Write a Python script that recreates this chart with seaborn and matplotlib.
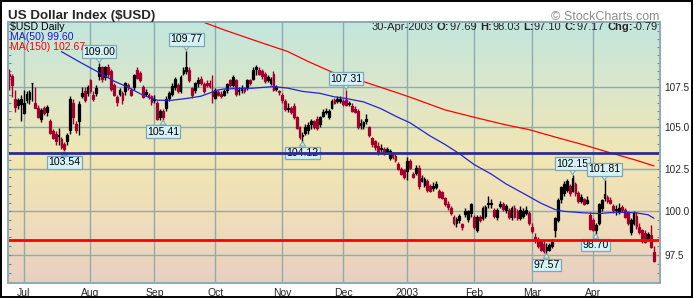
import numpy as np
import pandas as pd
import matplotlib
matplotlib.use("Agg")
import matplotlib.pyplot as plt
import seaborn as sns
from matplotlib.ticker import FixedLocator, NullFormatter, FuncFormatter
from matplotlib.patches import Rectangle
from matplotlib.colors import to_rgb

# ---------------- data ----------------
dates = pd.bdate_range("2002-06-24", "2003-04-30")

opens = [
    108.15, 108.15, 106.75, 106.65, 106.75, 105.85, 107.05, 107.15, 107.72, 106.5,
    106.2, 105.5, 106.2, 106.25, 105.35, 104.75, 104.6, 104.45, 104.3, 104.0,
    104.15, 104.8, 106.5, 105.2, 105.4, 106.9, 107.25, 107.1, 107.9, 107.0,
    107.1, 108.15, 108.7, 108.1, 108.75, 108.5, 107.6, 106.85, 107.3, 107.1,
    107.2, 107.6, 107.3, 107.5, 108.55, 108.35, 107.5, 107.15, 106.95, 106.9,
    106.75, 106.5, 105.6, 106.0, 106.2, 106.8, 107.05, 107.5, 107.6, 107.25,
    108.55, 108.45, 108.55, 107.0, 107.3, 107.7, 107.95, 107.2, 107.75, 107.75,
    107.2, 106.8, 107.15, 107.05, 107.2, 107.3, 107.9, 107.6, 107.9, 107.3,
    107.4, 107.4, 107.5, 107.9, 108.0, 108.75, 108.55, 108.5, 108.3, 108.1,
    107.75, 108.3, 107.5, 107.2, 107.0, 106.6, 106.2, 106.2, 106.3, 105.6,
    105.0, 104.55, 104.65, 104.8, 105.4, 105.35, 105.5, 105.2, 105.95, 106.0,
    105.6, 106.2, 106.65, 106.75, 106.6, 106.6, 106.65, 106.45, 106.3, 106.1,
    106.0, 105.25, 105.1, 105.5, 105.0, 104.35, 104.15, 103.85, 103.75, 103.65,
    103.65, 103.15, 103.4, 103.25, 102.8, 102.5, 102.4, 102.35, 102.95, 102.2,
    102.25, 102.55, 101.95, 101.55, 101.8, 101.5, 101.45, 101.6, 101.2, 101.1,
    100.75, 100.45, 100.2, 99.7, 99.55, 99.5, 99.1, 100.0, 99.55, 99.9,
    99.7, 98.9, 99.7, 99.6, 99.75, 100.5, 100.5, 100.1, 99.65, 100.45,
    100.45, 100.1, 100.1, 99.65, 100.2, 100.0, 100.1, 100.0, 100.1, 99.9,
    98.85, 98.5, 98.35, 98.3, 98.15, 97.95, 97.8, 98.0, 98.95, 99.5,
    100.7, 101.05, 101.25, 101.45, 101.2, 101.6, 101.05, 100.85, 100.7, 100.65,
    99.8, 99.5, 98.9, 99.3, 100.2, 100.75, 100.85, 100.65, 100.3, 100.15,
    99.95, 100.25, 100.1, 99.9, 98.8, 99.35, 99.75, 99.1, 98.9, 98.75,
    98.4, 98.65, 97.69,
]
highs = [
    108.6, 108.3, 107.3, 106.8, 106.95, 107.3, 107.2, 107.3, 107.75, 107.5,
    106.35, 106.2, 106.3, 106.35, 105.5, 104.9, 104.75, 104.95, 104.4, 104.1,
    104.65, 106.9, 106.7, 105.35, 106.6, 107.5, 107.45, 107.6, 108.0, 107.2,
    107.6, 109.0, 108.8, 108.8, 108.9, 108.6, 107.7, 107.0, 107.4, 107.2,
    107.8, 107.75, 107.4, 108.3, 108.75, 108.5, 107.6, 107.35, 107.1, 107.0,
    106.95, 106.6, 106.1, 106.1, 106.9, 107.2, 107.7, 108.1, 107.75, 108.2,
    108.7, 109.77, 108.7, 107.5, 107.8, 108.1, 108.15, 107.8, 107.9, 107.9,
    108.2, 107.4, 107.3, 107.2, 107.35, 107.7, 108.0, 108.2, 108.0, 107.5,
    107.6, 107.5, 108.0, 108.0, 108.7, 108.85, 108.7, 108.6, 108.4, 108.2,
    108.1, 108.45, 107.6, 107.3, 107.1, 106.7, 106.5, 106.3, 106.5, 105.7,
    105.1, 104.7, 105.2, 105.3, 105.5, 105.45, 105.7, 105.7, 106.1, 106.2,
    106.1, 106.75, 106.8, 106.9, 106.9, 106.7, 107.31, 106.6, 106.45, 106.3,
    106.1, 105.5, 105.4, 105.8, 105.1, 104.4, 104.2, 104.1, 104.0, 103.8,
    103.8, 103.7, 103.5, 103.4, 102.9, 102.6, 102.5, 103.2, 103.1, 102.3,
    102.7, 102.7, 102.1, 102.0, 101.9, 101.6, 101.7, 101.75, 101.3, 101.2,
    100.85, 100.6, 100.3, 99.8, 99.7, 99.85, 99.3, 100.2, 100.1, 100.5,
    99.8, 99.8, 99.8, 100.3, 100.35, 100.9, 100.7, 100.2, 100.2, 100.6,
    100.55, 100.4, 100.2, 100.3, 100.35, 100.15, 100.3, 100.2, 100.3, 100.0,
    99.3, 98.75, 98.5, 98.4, 98.3, 98.2, 98.2, 98.4, 99.7, 100.8,
    101.5, 101.8, 101.9, 101.6, 102.15, 101.7, 101.2, 101.0, 100.8, 100.9,
    99.95, 99.6, 99.3, 100.5, 100.7, 101.81, 100.95, 100.85, 100.4, 100.35,
    100.5, 100.35, 100.2, 100.0, 99.6, 100.0, 99.95, 99.3, 99.0, 98.9,
    98.8, 99.2, 98.03,
]
lows = [
    107.3, 106.85, 105.95, 106.1, 105.4, 105.8, 106.5, 106.4, 106.6, 106.15,
    105.55, 105.3, 105.75, 105.7, 104.6, 104.3, 103.9, 103.9, 103.7, 103.54,
    103.9, 104.6, 105.2, 104.65, 104.5, 106.8, 106.55, 106.9, 107.1, 106.6,
    106.9, 107.9, 107.8, 107.9, 108.1, 107.2, 106.9, 106.3, 106.9, 106.4,
    107.0, 107.3, 106.9, 107.3, 108.0, 107.8, 106.8, 106.9, 106.7, 106.35,
    106.5, 105.45, 105.45, 105.41, 106.0, 106.6, 106.9, 107.3, 107.1, 107.1,
    108.2, 108.3, 107.8, 106.8, 107.1, 107.5, 107.6, 107.1, 107.5, 107.4,
    106.5, 106.7, 106.9, 106.8, 106.9, 107.1, 107.5, 107.5, 106.9, 107.0,
    107.1, 107.1, 107.3, 107.6, 107.9, 108.2, 108.2, 108.0, 107.7, 107.8,
    107.6, 107.2, 107.2, 107.0, 106.5, 106.0, 105.9, 105.8, 105.5, 104.9,
    104.3, 104.12, 104.5, 104.6, 104.9, 104.9, 104.8, 105.0, 105.6, 105.8,
    105.5, 106.1, 106.4, 106.5, 106.5, 106.3, 106.3, 106.3, 105.95, 105.85,
    104.9, 104.9, 104.9, 105.2, 104.4, 103.8, 103.6, 103.3, 103.5, 103.3,
    103.4, 103.0, 103.1, 102.9, 102.4, 102.1, 101.9, 101.85, 102.5, 101.95,
    102.1, 101.3, 101.7, 101.4, 101.1, 101.1, 101.2, 101.3, 100.8, 100.7,
    100.3, 100.1, 99.8, 99.2, 99.1, 99.3, 98.95, 99.7, 99.4, 99.7,
    99.0, 98.8, 99.4, 99.5, 99.6, 100.2, 100.2, 99.6, 99.5, 100.2,
    100.0, 99.9, 99.55, 99.5, 99.6, 99.5, 99.5, 99.6, 99.8, 99.2,
    98.75, 98.2, 97.9, 97.75, 97.6, 97.57, 97.7, 97.9, 98.5, 99.4,
    100.5, 100.9, 101.1, 100.9, 101.1, 100.9, 100.5, 100.5, 100.35, 100.4,
    98.9, 98.85, 98.7, 99.2, 100.0, 100.6, 100.5, 100.4, 99.9, 99.8,
    99.85, 99.95, 99.6, 99.2, 98.65, 99.2, 99.0, 98.7, 98.2, 98.2,
    98.3, 97.9, 97.10,
]
closes = [
    108.3, 107.6, 106.25, 106.35, 106.4, 106.45, 106.65, 106.7, 107.7, 106.2,
    105.6, 106.05, 105.85, 105.95, 104.65, 104.35, 104.15, 104.5, 103.8, 103.7,
    104.55, 106.75, 105.6, 104.8, 106.4, 107.1, 106.65, 107.45, 107.2, 106.75,
    107.4, 108.75, 107.95, 108.7, 108.3, 107.35, 107.0, 106.55, 107.05, 106.65,
    107.7, 107.45, 107.0, 108.2, 108.05, 107.9, 106.85, 107.05, 106.85, 106.55,
    106.65, 105.5, 106.0, 105.6, 106.75, 107.1, 107.55, 107.95, 107.2, 108.1,
    108.35, 108.75, 107.9, 107.4, 107.7, 107.9, 107.7, 107.65, 107.6, 107.55,
    106.9, 107.3, 107.0, 106.9, 107.0, 107.65, 107.6, 108.1, 107.05, 107.25,
    107.3, 107.25, 107.9, 107.75, 108.55, 108.6, 108.3, 108.15, 107.85, 107.9,
    108.0, 107.3, 107.35, 107.15, 106.65, 106.1, 106.1, 105.95, 105.6, 104.95,
    104.4, 104.45, 105.0, 105.15, 105.2, 105.0, 104.95, 105.6, 105.7, 105.9,
    106.0, 106.6, 106.5, 106.6, 106.75, 106.4, 106.35, 106.4, 106.0, 105.95,
    105.0, 105.15, 105.3, 105.35, 104.5, 103.95, 103.8, 103.5, 103.7, 103.35,
    103.5, 103.55, 103.2, 103.0, 102.5, 102.2, 102.0, 102.95, 102.55, 102.0,
    102.55, 101.5, 101.8, 101.9, 101.25, 101.2, 101.35, 101.4, 100.85, 100.75,
    100.4, 100.25, 99.9, 99.3, 99.35, 99.75, 99.25, 99.85, 100.0, 100.4,
    99.1, 99.7, 99.5, 100.2, 100.25, 100.4, 100.45, 99.75, 100.1, 100.3,
    100.15, 100.3, 99.65, 100.2, 99.7, 99.6, 99.6, 99.75, 99.9, 99.3,
    99.1, 98.35, 98.0, 97.8, 97.75, 97.8, 98.05, 98.25, 99.6, 100.65,
    101.4, 101.6, 101.8, 101.05, 101.95, 101.05, 100.6, 100.6, 100.45, 100.5,
    99.0, 98.9, 99.2, 100.4, 100.65, 101.0, 100.6, 100.5, 100.05, 100.05,
    100.2, 100.05, 99.7, 99.3, 99.5, 99.9, 99.15, 98.8, 98.3, 98.25,
    98.7, 97.96, 97.17,
]

ma50_dates = ["2002-07-18", "2002-07-26", "2002-08-06", "2002-08-13", "2002-08-20",
              "2002-08-27", "2002-09-03", "2002-09-10", "2002-09-17", "2002-09-24",
              "2002-10-02", "2002-10-04", "2002-10-18", "2002-10-29", "2002-11-05",
              "2002-11-12", "2002-11-20", "2002-11-27", "2002-12-03", "2002-12-11",
              "2002-12-19", "2002-12-27", "2003-01-02", "2003-01-13", "2003-01-20",
              "2003-01-27", "2003-02-03", "2003-02-11", "2003-02-18", "2003-02-26",
              "2003-03-06", "2003-03-13", "2003-03-18", "2003-03-27", "2003-04-03",
              "2003-04-11", "2003-04-22", "2003-04-28", "2003-04-30"]
ma50_values = [109.70, 109.07, 108.37, 107.85, 107.45, 106.97, 106.65, 106.65, 106.76, 106.90,
               107.29, 107.35, 107.40, 107.50, 107.40, 107.20, 107.08, 106.86, 106.76, 106.55,
               106.13, 105.59, 105.27, 104.46, 103.96, 103.40, 102.76, 102.18, 101.61, 101.05,
               100.48, 100.10, 100.00, 99.91, 99.87, 99.95, 99.91, 99.80, 99.60]

ma150_dates = ["2002-09-24", "2002-10-04", "2002-10-18", "2002-11-05", "2002-11-14",
               "2002-11-27", "2002-12-11", "2002-12-27", "2003-01-03", "2003-01-20",
               "2003-02-03", "2003-02-18", "2003-02-28", "2003-03-13", "2003-03-27",
               "2003-04-08", "2003-04-22", "2003-04-30"]
ma150_values = [111.65, 111.09, 110.45, 109.70, 109.07, 108.34, 107.81, 107.09, 106.78, 106.06,
                105.61, 105.14, 104.85, 104.40, 103.92, 103.50, 103.00, 102.67]

resistance_level = 103.46
support_level = 98.37

month_ticks = ["2002-07-01", "2002-08-01", "2002-09-02", "2002-10-01", "2002-11-01",
               "2002-12-02", "2003-01-01", "2003-02-03", "2003-03-03", "2003-04-01"]
month_labels = ["Jul", "Aug", "Sep", "Oct", "Nov", "Dec", "2003", "Feb", "Mar", "Apr"]
y_ticks = [97.5, 100.0, 102.5, 105.0, 107.5]

peak_dates = ["2002-08-06", "2002-09-17", "2002-12-03", "2003-03-21", "2003-04-07"]
trough_dates = ["2002-07-19", "2002-09-05", "2002-11-12", "2003-03-10", "2003-04-02"]

title = "US Dollar Index ($USD)"
legend_lines = [("$USD Daily", "#000000"), ("MA(50) 99.60", "#1a1ad0"), ("MA(150) 102.67", "#ff0000")]
readout = [["30-Apr-2003"], ["O:", "97.69"], ["H:", "98.03"], ["L:", "97.10"],
           ["C:", "97.17"], ["Chg:", "-0.79"]]

# ---------------- style ----------------
sns.set_style("white")
plt.rcParams["font.family"] = ["Liberation Sans", "DejaVu Sans"]

W, H = 694, 298
fig = plt.figure(figsize=(W / 100, H / 100), dpi=100, facecolor="white")
ax_l, ax_r, ax_t, ax_b = 8, 660, 22, 283
ax = fig.add_axes([ax_l / W, 1 - ax_b / H, (ax_r - ax_l) / W, (ax_b - ax_t) / H])

RED = "#a3002e"
BLACK = "#000000"
GRID = "#8faab1"

idx = {d: i for i, d in enumerate(dates)}
def pos(s):
    return idx[pd.Timestamp(s)]

o = np.array(opens); h = np.array(highs); l = np.array(lows); c = np.array(closes)
assert len(o) == len(h) == len(l) == len(c) == len(dates)
x = np.arange(len(dates))

# background gradient
stops = [(0.0, "#c2e6de"), (0.30, "#dfe7c6"), (0.52, "#f1e6b3"), (0.78, "#eedcbb"), (1.0, "#e8d0c1")]
n = 300
tt = np.linspace(0, 1, n)
cols = np.zeros((n, 1, 3))
for k in range(3):
    cols[:, 0, k] = np.interp(tt, [s[0] for s in stops], [to_rgb(s[1])[k] for s in stops])
ax.imshow(cols, extent=(0, 1, 0, 1), transform=ax.transAxes, aspect="auto", zorder=0)

ax.set_yscale("log")
ax.set_xlim(-0.4, 224.1)
ax.set_ylim(95.93, 111.6)

# candlesticks
prev = np.r_[c[0] + 1, c[:-1]]
is_red = c < prev
colors = np.where(is_red, RED, BLACK)
filled = c < o
face = [col if f else "none" for col, f in zip(colors, filled)]
ax.vlines(x, l, h, colors=colors, lw=1.0, zorder=3)
body_lo = np.minimum(o, c)
body_h = np.maximum(np.abs(c - o), 0.03)
ax.bar(x, body_h, bottom=body_lo, width=0.62, color=face, edgecolor=colors, linewidth=0.9, zorder=4)

# moving averages
ma50_df = pd.DataFrame({"x": [pos(d) for d in ma50_dates], "v": ma50_values})
ma150_df = pd.DataFrame({"x": [pos(d) for d in ma150_dates], "v": ma150_values})
sns.lineplot(data=ma50_df, x="x", y="v", ax=ax, color="#2323d6", lw=0.9, zorder=5, legend=False)
sns.lineplot(data=ma150_df, x="x", y="v", ax=ax, color="#ff0000", lw=0.9, zorder=5, legend=False)

# peak / trough labels
LBL_FACE = "#d5f3f7"
LBL_EDGE = "#7fa6b3"
def label(i, val, up):
    ax.annotate(f"{val:.2f}", xy=(i, val), xytext=(0, 8.0 if up else -8.0), textcoords="offset points",
                ha="center", va="center", fontsize=7.6, color="black", zorder=6,
                bbox=dict(boxstyle="square,pad=0.12", fc=LBL_FACE, ec=LBL_EDGE, lw=0.9),
                arrowprops=dict(arrowstyle="wedge,tail_width=0.55,shrink_factor=0.5", fc=LBL_FACE,
                                ec=LBL_EDGE, lw=0.8, shrinkA=0, shrinkB=0))
for d in peak_dates:
    i = pos(d); label(i, h[i], True)
for d in trough_dates:
    i = pos(d); label(i, l[i], False)

# horizontal lines
ax.axhline(resistance_level, color="#2c2c8e", lw=2.0, zorder=7)
ax.axhline(support_level, color="#ff0000", lw=2.0, zorder=7)

# axes / ticks
ax.set_xticks([pos(d) for d in month_ticks])
ax.set_xticklabels(month_labels)
ax.yaxis.set_major_locator(FixedLocator(y_ticks))
ax.yaxis.set_major_formatter(FuncFormatter(lambda v, p: f"{v:.1f}"))
minor = [v for v in np.arange(96.0, 111.51, 0.5) if v not in y_ticks]
ax.yaxis.set_minor_locator(FixedLocator(minor))
ax.yaxis.set_minor_formatter(NullFormatter())
ax.tick_params(axis="y", which="both", direction="in", left=True, right=True,
               labelleft=False, labelright=True, length=2.5, width=0.8, color="#6f8a93",
               labelsize=7.2, pad=3)
ax.tick_params(axis="x", which="both", length=0, labelsize=7.5, pad=3.5)
ax.set_xlabel(""); ax.set_ylabel("")
ax.grid(True, which="major", color=GRID, lw=1.0, zorder=1)
ax.set_axisbelow(False)
for gl in ax.get_xgridlines() + ax.get_ygridlines():
    gl.set_zorder(1)
for sp in ax.spines.values():
    sp.set_color(GRID); sp.set_linewidth(1.4); sp.set_zorder(8)

# texts
def fx(px):
    return px / W
def fy(py):
    return 1 - py / H

fig.text(fx(8), fy(19.5), title, fontsize=9.6, fontweight="bold", ha="left", va="baseline")
fig.text(fx(659), fy(19.5), "\u00a9 StockCharts.com", fontsize=9.0, color="#8d8d8d", ha="right", va="baseline")
for k, (s, col) in enumerate(legend_lines):
    fig.text(fx(10), fy(29.5 + 10.2 * k), s, fontsize=7.6, color=col, ha="left", va="baseline", zorder=10)

# readout line: pieces chained from the right edge, each anchored to its right neighbour
FS = 8.0
pieces = []
for g, grp in enumerate(readout):
    for k, s in enumerate(grp):
        bold = (len(grp) == 2 and k == 0)
        pieces.append((s, "bold" if bold else "normal", g > 0 and k == 0))
SPACE_PT = 0.30 * FS
anchor = None
gap_after = 0.0
for s, wgt, space_before in reversed(pieces):
    if anchor is None:
        t = fig.text(fx(658), fy(30), s, fontsize=FS, fontweight=wgt, ha="right", va="baseline")
    else:
        t = ax.annotate(s, xy=(0, 0), xycoords=anchor, xytext=(-gap_after, 0),
                        textcoords="offset points", ha="right", va="bottom",
                        fontsize=FS, fontweight=wgt, annotation_clip=False)
    anchor = t
    gap_after = SPACE_PT if space_before else 0.0

# outer frame
fig.patches.append(Rectangle((0.8 / W, 1.5 / H), 691 / W, 295.5 / H, transform=fig.transFigure,
                             fill=False, ec="black", lw=1.4))

fig.savefig("out.png", dpi=100, facecolor="white")
